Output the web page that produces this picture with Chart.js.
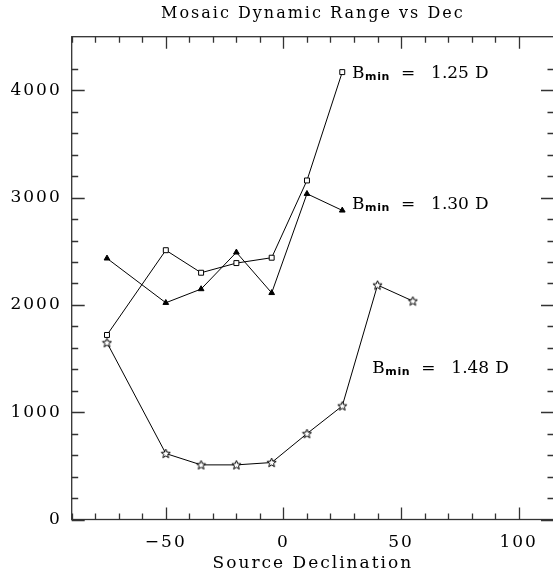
<!DOCTYPE html>
<html>
<head>
<meta charset="utf-8">
<script src="https://cdn.jsdelivr.net/npm/chart.js@4/dist/chart.umd.min.js"></script>
<style>
  html, body { margin: 0; background: #fff; overflow: hidden; }
</style>
</head>
<body>
<canvas id="chart" width="559" height="577"></canvas>
<script>
// data
const declShort = [-75, -50, -35, -20, -5, 10, 25];
const declLong = [-75, -50, -35, -20, -5, 10, 25, 40, 55];
const range125 = [1720, 2510, 2300, 2390, 2440, 3160, 4170];
const range130 = [2434, 2020, 2148, 2490, 2112, 3036, 2881];
const range148 = [1648, 615, 509, 509, 531, 800, 1058, 2185, 2036];
const seriesNames = ['1.25', '1.30', '1.48'];
const xTickLabels = [-50, 0, 50, 100];
const yTickLabels = [0, 1000, 2000, 3000, 4000];

const serif = "'DejaVu Serif', serif";

// open 5-point star marker
function makeStar() {
    const c = document.createElement('canvas');
    c.width = 11; c.height = 11;
    const g = c.getContext('2d');
    g.beginPath();
    for (let i = 0; i < 10; i++) {
        const r = i % 2 === 0 ? 4.8 : 2.1;
        const a = -Math.PI / 2 + i * Math.PI / 5;
        const px = 5.5 + r * Math.cos(a), py = 5.8 + r * Math.sin(a);
        if (i === 0) g.moveTo(px, py); else g.lineTo(px, py);
    }
    g.closePath();
    g.fillStyle = '#fff';
    g.fill();
    g.strokeStyle = '#000';
    g.lineWidth = 1;
    g.stroke();
    return c;
}

function pts(xs, ys) {
    return xs.map((x, i) => ({ x: x, y: ys[i] }));
}

// letter spacing for the wide plotter-style text
const spacing = {
    id: 'spacing',
    beforeUpdate(chart) { chart.ctx.letterSpacing = '2px'; },
    beforeDraw(chart) { chart.ctx.letterSpacing = '2px'; }
};

// frame with inward ticks on all four sides
const frame = {
    id: 'frame',
    afterDraw(chart) {
        const ctx = chart.ctx;
        const a = chart.chartArea;
        const xs = chart.scales.x, ys = chart.scales.y;
        ctx.save();
        ctx.strokeStyle = '#333';
        ctx.lineWidth = 1.3;
        ctx.strokeRect(a.left, a.top, a.right - a.left, a.bottom - a.top);
        ctx.beginPath();
        xs.ticks.forEach(t => {
            if (t.value % 10 !== 0) return;
            const p = Math.round(xs.getPixelForValue(t.value)) + 0.5;
            const len = t.value % 50 === 0 ? 12 : 6;
            ctx.moveTo(p, a.bottom); ctx.lineTo(p, a.bottom - len);
            ctx.moveTo(p, a.top); ctx.lineTo(p, a.top + len);
        });
        ys.ticks.forEach(t => {
            if (t.value % 200 !== 0) return;
            const p = Math.round(ys.getPixelForValue(t.value)) + 0.5;
            const len = t.value % 1000 === 0 ? 13 : 6.5;
            ctx.moveTo(a.left, p); ctx.lineTo(a.left + len, p);
            ctx.moveTo(a.right, p); ctx.lineTo(a.right - len, p);
        });
        ctx.stroke();
        ctx.restore();
    }
};

// B_min labels next to the curves
const curveLabels = {
    id: 'curveLabels',
    afterDatasetsDraw(chart, args, opts) {
        const ctx = chart.ctx;
        const xs = chart.scales.x, ys = chart.scales.y;
        ctx.save();
        ctx.fillStyle = '#000';
        ctx.textBaseline = 'alphabetic';
        opts.items.forEach(it => {
            const px = xs.getPixelForValue(it.x);
            const py = ys.getPixelForValue(it.y) + 6;
            ctx.letterSpacing = '0px';
            ctx.font = '17px ' + serif;
            ctx.fillText('B', px - 1, py);
            ctx.fillText('=', px + 48, py);
            ctx.fillText(it.text, px + 78, py);
            ctx.fillText('D', px + 122, py);
            ctx.font = "bold 11px 'DejaVu Sans', sans-serif";
            ctx.letterSpacing = '0.6px';
            ctx.fillText('min', px + 12, py + 2);
        });
        ctx.restore();
    }
};

new Chart(document.getElementById('chart'), {
    type: 'line',
    data: {
        datasets: [{
            label: seriesNames[0],
            data: pts(declShort, range125),
            borderColor: '#000',
            borderWidth: 1,
            pointStyle: 'rect',
            pointRadius: 3.5,
            pointBackgroundColor: '#fff',
            pointBorderColor: '#000',
            pointBorderWidth: 1
        }, {
            label: seriesNames[1],
            data: pts(declShort, range130),
            borderColor: '#000',
            borderWidth: 1,
            pointStyle: 'triangle',
            pointRadius: 3.3,
            pointBackgroundColor: '#000',
            pointBorderColor: '#000',
            pointBorderWidth: 1
        }, {
            label: seriesNames[2],
            data: pts(declLong, range148),
            borderColor: '#000',
            borderWidth: 1,
            pointStyle: makeStar()
        }]
    },
    options: {
        responsive: false,
        devicePixelRatio: 1,
        animation: false,
        layout: { padding: { left: 0, right: 0, top: 0, bottom: 0 } },
        plugins: {
            legend: { display: false },
            tooltip: { enabled: false },
            title: {
                display: true,
                text: 'Mosaic Dynamic Range vs Dec',
                fullSize: false,
                color: '#000',
                font: { family: serif, size: 16, weight: 'normal' },
                padding: { top: 4.4, bottom: 13.1 }
            },
            curveLabels: {
                items: [
                    { x: 29.6, y: 4170, text: '1.25' },
                    { x: 29.6, y: 2950, text: '1.30' },
                    { x: 38.2, y: 1421, text: '1.48' }
                ]
            }
        },
        scales: {
            x: {
                type: 'linear',
                min: -90,
                max: 115,
                grid: { display: false, drawTicks: false },
                border: { display: false },
                afterFit: s => { s.height = 57.5; s.paddingLeft = 0; s.paddingRight = 0; },
                ticks: {
                    stepSize: 10,
                    autoSkip: false,
                    maxRotation: 0,
                    padding: 13,
                    color: '#000',
                    font: { family: serif, size: 17 },
                    callback: v => xTickLabels.includes(v) ? String(v).replace('-', '\u2212') : ''
                },
                title: {
                    display: true,
                    text: 'Source Declination',
                    color: '#000',
                    font: { family: serif, size: 17 },
                    padding: { top: 0, bottom: 2.8 }
                }
            },
            y: {
                min: 0,
                max: 4500,
                grid: { display: false, drawTicks: false },
                border: { display: false },
                afterFit: s => { s.width = 71.7; },
                ticks: {
                    stepSize: 200,
                    autoSkip: false,
                    padding: 10,
                    color: '#000',
                    font: { family: serif, size: 17 },
                    callback: v => yTickLabels.includes(v) ? String(v) : ''
                }
            }
        }
    },
    plugins: [spacing, frame, curveLabels]
});
</script>
</body>
</html>
